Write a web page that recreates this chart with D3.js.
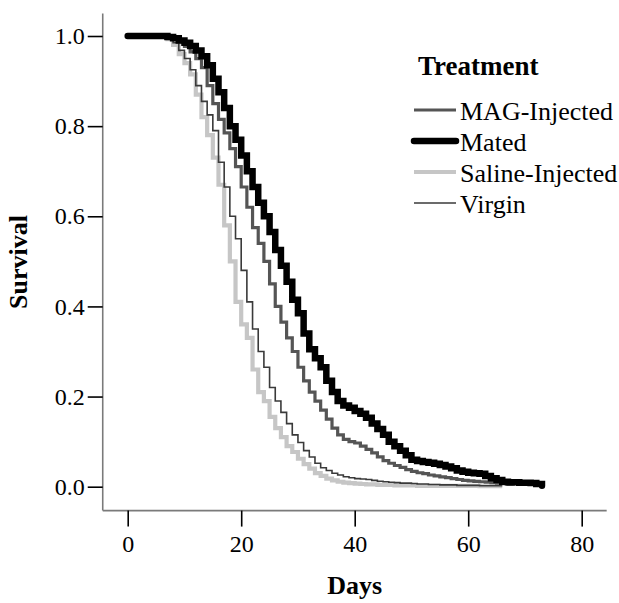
<!DOCTYPE html>
<html>
<head>
<meta charset="utf-8">
<script src="https://cdn.jsdelivr.net/npm/d3@7"></script>
<style>
  html, body { margin: 0; padding: 0; background: #fff; }
  svg { display: block; }
  text { font-family: "Liberation Serif", "Times New Roman", serif; fill: #000; }
</style>
</head>
<body>
<svg id="chart" width="619" height="603"></svg>
<script>
// ---------------- data ----------------
const seriesNames = ["MAG-Injected", "Mated", "Saline-Injected", "Virgin"];
const xTicks = [0, 20, 40, 60, 80];
const yTicks = [0.0, 0.2, 0.4, 0.6, 0.8, 1.0];

// survival at day 0,1,2,... (Kaplan-Meier step values)
const magInjected = [1,1,1,1,1,1,1,1,.995,.987,.977,.965,.95,.93,.89,.85,.815,.785,.75,.71,.665,.62,.575,.54,.50,.45,.40,.365,.33,.30,.265,.235,.21,.19,.17,.15,.13,.115,.105,.10,.097,.09,.083,.075,.066,.058,.052,.047,.043,.038,.034,.031,.029,.026,.024,.022,.02,.018,.016,.014,.013,.012,.011,.01,.009,.008,.007,.005,.002];
const mated = [1,1,1,1,1,1,1,.998,.995,.99,.985,.978,.968,.955,.935,.905,.875,.84,.80,.77,.735,.70,.665,.63,.60,.565,.525,.49,.455,.415,.385,.34,.305,.285,.265,.235,.21,.19,.18,.175,.168,.162,.153,.14,.128,.115,.10,.09,.08,.07,.06,.057,.055,.053,.051,.048,.045,.041,.036,.033,.031,.03,.029,.024,.019,.015,.011,.01,.01,.009,.009,.008,.006,.002];
const salineInjected = [1,1,1,1,1,1,1,.993,.98,.96,.94,.915,.87,.82,.78,.73,.67,.58,.50,.41,.36,.33,.26,.21,.19,.155,.13,.11,.09,.077,.062,.05,.04,.03,.024,.018,.014,.011,.009,.008,.007,.006,.005,.005,.004,.004,.004,.003,.003,.003,.003,.002,.002,.002,.002,.002,.002,.002,.002,.002,.002,.002,.001,.001,.001,.001,.001];
const virgin = [1,1,1,1,1,1,1,.995,.985,.968,.95,.925,.89,.855,.825,.79,.72,.665,.60,.55,.48,.41,.35,.30,.265,.22,.19,.165,.14,.115,.098,.08,.066,.052,.042,.036,.03,.026,.022,.02,.018,.017,.016,.014,.012,.011,.01,.009,.008,.008,.007,.006,.006,.005,.005,.004,.004,.004,.003,.003,.003,.003,.002,.002,.002,.002,.002];

const seriesValues = {
  "MAG-Injected": magInjected,
  "Mated": mated,
  "Saline-Injected": salineInjected,
  "Virgin": virgin
};

// ---------------- styles ----------------
const styles = {
  "MAG-Injected":    { color: "#555555", width: 3.2 },
  "Mated":           { color: "#000000", width: 6.5 },
  "Saline-Injected": { color: "#c6c6c6", width: 4.2 },
  "Virgin":          { color: "#3a3a3a", width: 1.6 }
};
const drawOrder = ["Saline-Injected", "Virgin", "MAG-Injected", "Mated"];

// ---------------- chart ----------------
const svg = d3.select("#chart");
const x = d3.scaleLinear().domain([0, 80]).range([127.7, 581.7]);
const y = d3.scaleLinear().domain([0, 1]).range([486.7, 36]);

// frame lines (axis spines)
const frameX = [-4.4, 84.4];
const frameY = [-0.053, 1.05];
svg.append("line")
  .attr("x1", x(frameX[0])).attr("x2", x(frameX[1]))
  .attr("y1", y(frameY[0])).attr("y2", y(frameY[0]))
  .attr("stroke", "#7a7a7a").attr("stroke-width", 1.6);
svg.append("line")
  .attr("x1", x(frameX[0])).attr("x2", x(frameX[0]))
  .attr("y1", y(frameY[0])).attr("y2", y(frameY[1]))
  .attr("stroke", "#7a7a7a").attr("stroke-width", 1.6);

// x axis
const xAxis = svg.append("g")
  .attr("transform", `translate(0,${y(frameY[0])})`)
  .call(d3.axisBottom(x).tickValues(xTicks).tickFormat(d3.format("d")).tickSize(16).tickPadding(8));
xAxis.select(".domain").remove();
xAxis.selectAll(".tick line").attr("stroke", "#000").attr("stroke-width", 1.6);
xAxis.selectAll(".tick text").style("font-size", "24px").style("font-family", "Liberation Serif").attr("fill", "#000");

// y axis
const yAxis = svg.append("g")
  .attr("transform", `translate(${x(frameX[0])},0)`)
  .call(d3.axisLeft(y).tickValues(yTicks).tickFormat(d3.format(".1f")).tickSize(15).tickPadding(3));
yAxis.select(".domain").remove();
yAxis.selectAll(".tick line").attr("stroke", "#000").attr("stroke-width", 1.6);
yAxis.selectAll(".tick text").style("font-size", "24px").style("font-family", "Liberation Serif").attr("fill", "#000");

// axis titles
svg.append("text")
  .attr("x", (x(frameX[0]) + x(frameX[1])) / 2).attr("y", 594)
  .attr("text-anchor", "middle")
  .style("font-size", "26px").style("font-weight", "bold")
  .text("Days");
svg.append("text")
  .attr("transform", `translate(27,${(y(frameY[0]) + y(frameY[1])) / 2}) rotate(-90)`)
  .attr("text-anchor", "middle")
  .style("font-size", "26px").style("font-weight", "bold")
  .text("Survival");

// curves
const line = d3.line()
  .x((d, i) => x(i))
  .y(d => y(d))
  .curve(d3.curveStepAfter);

drawOrder.forEach(name => {
  svg.append("path")
    .datum(seriesValues[name])
    .attr("d", line)
    .attr("fill", "none")
    .attr("stroke", styles[name].color)
    .attr("stroke-width", styles[name].width)
    .attr("stroke-linejoin", "miter")
    .attr("stroke-linecap", name === "Mated" ? "round" : "butt");
});

// legend
const legend = svg.append("g");
legend.append("text")
  .attr("x", 418).attr("y", 75)
  .style("font-size", "27px").style("font-weight", "bold")
  .text("Treatment");
seriesNames.forEach((name, i) => {
  const by = 120 + i * 31;
  legend.append("line")
    .attr("x1", 414).attr("x2", 456)
    .attr("y1", by - 10).attr("y2", by - 10)
    .attr("stroke", styles[name].color)
    .attr("stroke-width", styles[name].width)
    .attr("stroke-linecap", name === "Mated" ? "round" : "butt");
  legend.append("text")
    .attr("x", 460).attr("y", by)
    .style("font-size", "26px")
    .text(name);
});
</script>
</body>
</html>
